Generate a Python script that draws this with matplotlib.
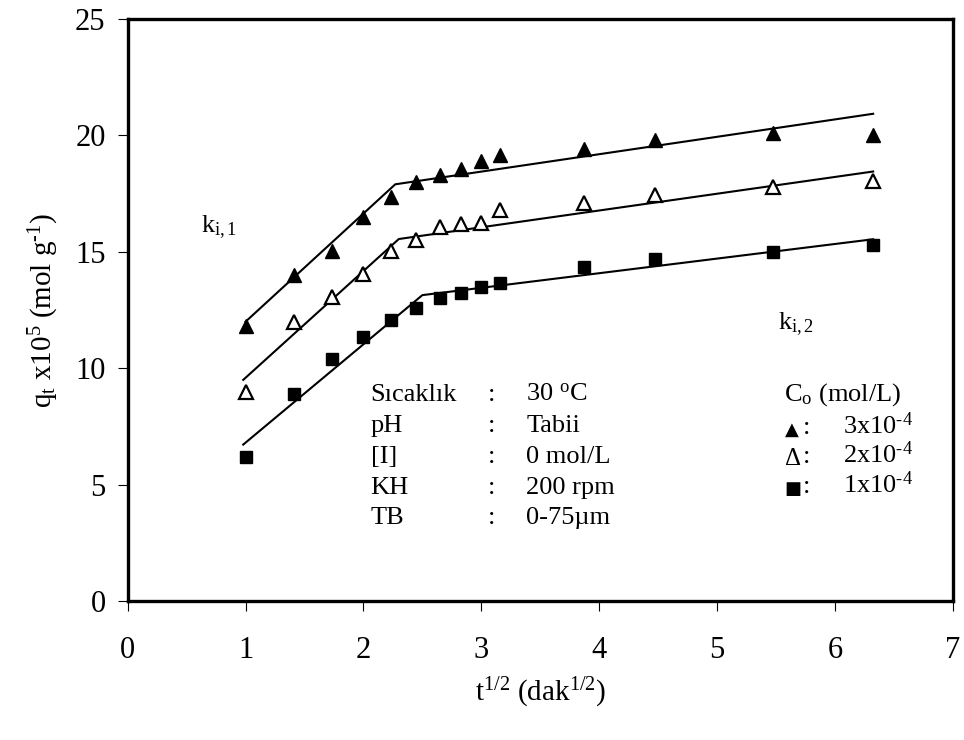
import matplotlib
matplotlib.use("Agg")
import matplotlib.pyplot as plt
import numpy as np

plt.rcParams['font.family'] = ['Liberation Serif', 'DejaVu Serif']
plt.rcParams['mathtext.fontset'] = 'custom'
plt.rcParams['mathtext.rm'] = 'Liberation Serif'
plt.rcParams['mathtext.it'] = 'Liberation Serif:italic'
plt.rcParams['mathtext.bf'] = 'Liberation Serif:bold'

# Data: t^(1/2) (dak^(1/2))
t_sqrt = [1.0, 1.414, 1.732, 2.0, 2.236, 2.449, 2.646, 2.828, 3.0, 3.162, 3.873, 4.472, 5.477, 6.325]
q_3e4 = [11.8, 14.0, 15.05, 16.5, 17.35, 18.0, 18.3, 18.55, 18.9, 19.15, 19.4, 19.8, 20.1, 20.0]
q_2e4 = [9.0, 12.0, 13.05, 14.05, 15.05, 15.5, 16.05, 16.2, 16.25, 16.8, 17.1, 17.45, 17.8, 18.05]
q_1e4 = [6.2, 8.9, 10.4, 11.35, 12.05, 12.6, 13.0, 13.25, 13.5, 13.65, 14.35, 14.7, 15.0, 15.3]

# Two-segment fit lines (x points, y points)
fit_x_3e4 = [1.0, 2.27, 6.325]
fit_y_3e4 = [12.0, 17.9, 20.93]
fit_x_2e4 = [0.98, 2.30, 6.325]
fit_y_2e4 = [9.5, 15.55, 18.45]
fit_x_1e4 = [0.98, 2.50, 6.325]
fit_y_1e4 = [6.72, 13.14, 15.54]

x_ticks = [0, 1, 2, 3, 4, 5, 6, 7]
y_ticks = [0, 5, 10, 15, 20, 25]

fig = plt.figure(figsize=(9.64, 7.40), dpi=100)
ax = fig.add_axes([0.1325, 0.1878, 0.9883 - 0.1325, 0.9743 - 0.1878])

lw_fit = 1.5
ax.plot(fit_x_3e4, fit_y_3e4, color='black', lw=lw_fit, zorder=2)
ax.plot(fit_x_2e4, fit_y_2e4, color='black', lw=lw_fit, zorder=2)
ax.plot(fit_x_1e4, fit_y_1e4, color='black', lw=lw_fit, zorder=2)

ax.plot(t_sqrt, q_3e4, linestyle='none', marker='^', ms=10.5, mfc='black', mec='black', zorder=3)
ax.plot(t_sqrt, q_2e4, linestyle='none', marker='^', ms=10, mfc='white', mec='black', mew=1.6, zorder=3)
ax.plot(t_sqrt, q_1e4, linestyle='none', marker='s', ms=8.5, mfc='black', mec='black', zorder=3)

ax.set_xlim(0, 7)
ax.set_ylim(0, 25)
ax.set_xticks(x_ticks)
ax.set_yticks(y_ticks)
ax.tick_params(axis='both', direction='out', length=7, width=0.8, labelsize=22, color='black')
ax.tick_params(axis='x', pad=18)
ax.tick_params(axis='y', pad=9)
for s in ax.spines.values():
    s.set_linewidth(2.4)
    s.set_color('black')

ax.set_xlabel('$\\mathrm{t^{1/2}\\ (dak^{1/2})}$', fontsize=21, labelpad=8)
ax.set_ylabel('$\\mathrm{q_{t}\\ x10^{5}\\ (mol\\ g^{\u20101})}$', fontsize=21, labelpad=10)

fs = 19
# Conditions block
rows = [("Sıcaklık", r"30 $\mathrm{^{o}}$C"), ("pH", "Tabii"), ("[I]", "0 mol/L"),
        ("KH", "200 rpm"), ("TB", "0-75µm")]
ys = [8.85, 7.5, 6.2, 4.85, 3.55]
for (lab, val), yy in zip(rows, ys):
    ax.text(2.06, yy, lab, fontsize=fs, va='center', ha='left')
    ax.text(3.06, yy, ":", fontsize=fs, va='center', ha='left')
    ax.text(3.38, yy, val, fontsize=fs, va='center', ha='left')

# Legend block
ax.text(5.57, 8.85, r"C$_\mathrm{o}$ (mol/L)", fontsize=fs, va='center', ha='left')
leg_sym = ["▲", "Δ", "■"]
leg_sym_fs = [13, 18, 13]
leg_val = ['3x10$^\\mathrm{\u20104}$', '2x10$^\\mathrm{\u20104}$', '1x10$^\\mathrm{\u20104}$']
leg_y = [7.45, 6.2, 4.9]
for sym, sfs, val, yy in zip(leg_sym, leg_sym_fs, leg_val, leg_y):
    ax.text(5.575, yy - 0.1, sym, fontsize=sfs, va='center', ha='left',
            family=['DejaVu Sans'] if sym != "Δ" else ['Liberation Serif'])
    ax.text(5.725, yy, ":", fontsize=fs, va='center', ha='left')
    ax.text(6.07, yy + 0.1, val, fontsize=fs, va='center', ha='left')

ax.text(0.62, 16.05, r"k$_\mathrm{i,1}$", fontsize=fs, va='center', ha='left')
ax.text(5.52, 11.9, r"k$_\mathrm{i,2}$", fontsize=fs, va='center', ha='left')

fig.savefig("out.png", dpi=100)
